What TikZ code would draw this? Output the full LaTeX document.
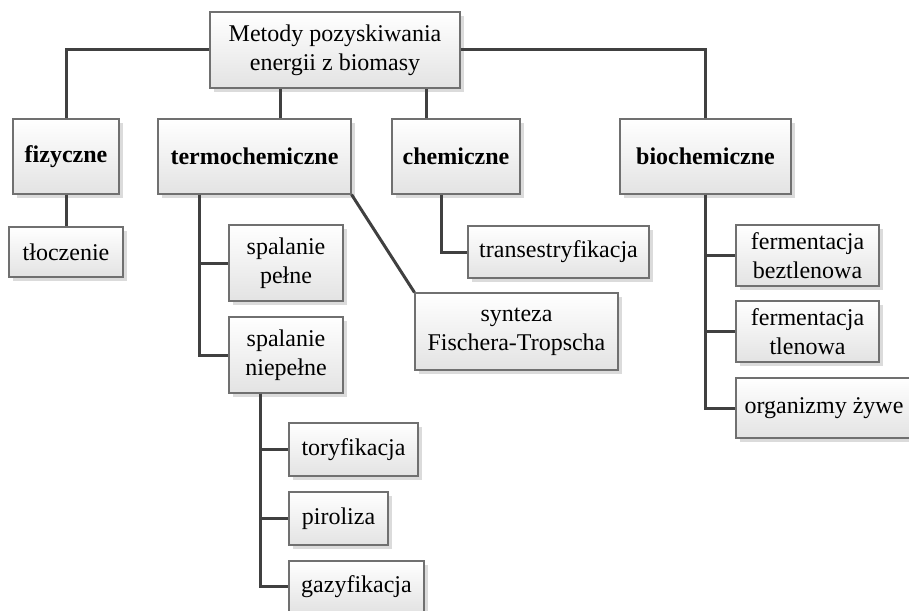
\documentclass[tikz,border=0pt]{standalone}
\usepackage{fontspec}
\setmainfont{Liberation Serif}
\usetikzlibrary{shadows}
\definecolor{linkgray}{HTML}{404040}
\definecolor{framegray}{HTML}{707070}
\begin{document}
\begin{tikzpicture}[x=1pt,y=-1pt,
  box/.style={draw=framegray, line width=1.1pt, top color=white, bottom color=black!11,
    align=center, inner sep=0pt, font=\fontsize{24}{29}\selectfont,
    drop shadow={shadow xshift=4pt, shadow yshift=-4pt, fill=black!14, opacity=1}},
  link/.style={draw=linkgray, line width=3pt}]
\useasboundingbox (0,0) rectangle (909,610);

% top level
\node[box, minimum width=250pt, minimum height=76pt] (root) at (335,50) {Metody pozyskiwania\\energii z biomasy};

% method groups
\node[box, minimum width=106pt, minimum height=75pt, font=\fontsize{24}{29}\selectfont\bfseries] (fiz) at (66,156.5) {fizyczne};
\node[box, minimum width=193pt, minimum height=75pt, font=\fontsize{24}{29}\selectfont\bfseries] (termo) at (254.5,156.5) {termochemiczne};
\node[box, minimum width=128pt, minimum height=75pt, font=\fontsize{24}{29}\selectfont\bfseries] (chem) at (456,156.5) {chemiczne};
\node[box, minimum width=171pt, minimum height=75pt, font=\fontsize{24}{29}\selectfont\bfseries] (bio) at (705.5,156.5) {biochemiczne};

% processes
\node[box, minimum width=114pt, minimum height=50pt] (tlo) at (66,252) {tłoczenie};
\node[box, minimum width=114pt, minimum height=76pt] (sp1) at (286,263) {spalanie\\pełne};
\node[box, minimum width=114pt, minimum height=76pt] (sp2) at (286,355) {spalanie\\niepełne};
\node[box, minimum width=203pt, minimum height=77pt] (syn) at (516.5,331.5) {synteza\\Fischera-Tropscha};
\node[box, minimum width=181pt, minimum height=52pt] (trans) at (558.5,252) {transestryfikacja};
\node[box, minimum width=143pt, minimum height=61pt] (fb) at (807.5,255.5) {fermentacja\\beztlenowa};
\node[box, minimum width=143pt, minimum height=61pt] (ft) at (807.5,331.5) {fermentacja\\tlenowa};
\node[box, minimum width=176pt, minimum height=60pt] (org) at (824,408) {organizmy żywe};
\node[box, minimum width=129pt, minimum height=53pt] (tor) at (353.5,449.5) {toryfikacja};
\node[box, minimum width=99pt, minimum height=53pt] (pir) at (338.5,518.5) {piroliza};
\node[box, minimum width=135pt, minimum height=51pt] (gaz) at (356.5,586.5) {gazyfikacja};

% connectors from the top box
\draw[link] (root.west) -| (fiz.north);
\draw[link] (root.east) -| (bio.north);
\draw[link] ([xshift=25.5pt]termo.north) -- ([xshift=25.5pt]termo.north |- root.south);
\draw[link] ([xshift=-30pt]chem.north) -- ([xshift=-30pt]chem.north |- root.south);

% branches of each group
\draw[link] (fiz.south) -- (tlo.north);
\draw[link] ([xshift=-55.5pt]termo.south) |- (sp2.west);
\draw[link] ([xshift=-55.5pt]termo.south) |- (sp1.west);
\draw[link] (termo.south east) -- (syn.north west);
\draw[link] ([xshift=-15pt]chem.south) |- (trans.west);
\draw[link] (bio.south) |- (org.west);
\draw[link] (bio.south) |- (fb.west);
\draw[link] (bio.south) |- (ft.west);
\draw[link] ([xshift=-26pt]sp2.south) |- (gaz.west);
\draw[link] ([xshift=-26pt]sp2.south) |- (tor.west);
\draw[link] ([xshift=-26pt]sp2.south) |- (pir.west);
\end{tikzpicture}
\end{document}
